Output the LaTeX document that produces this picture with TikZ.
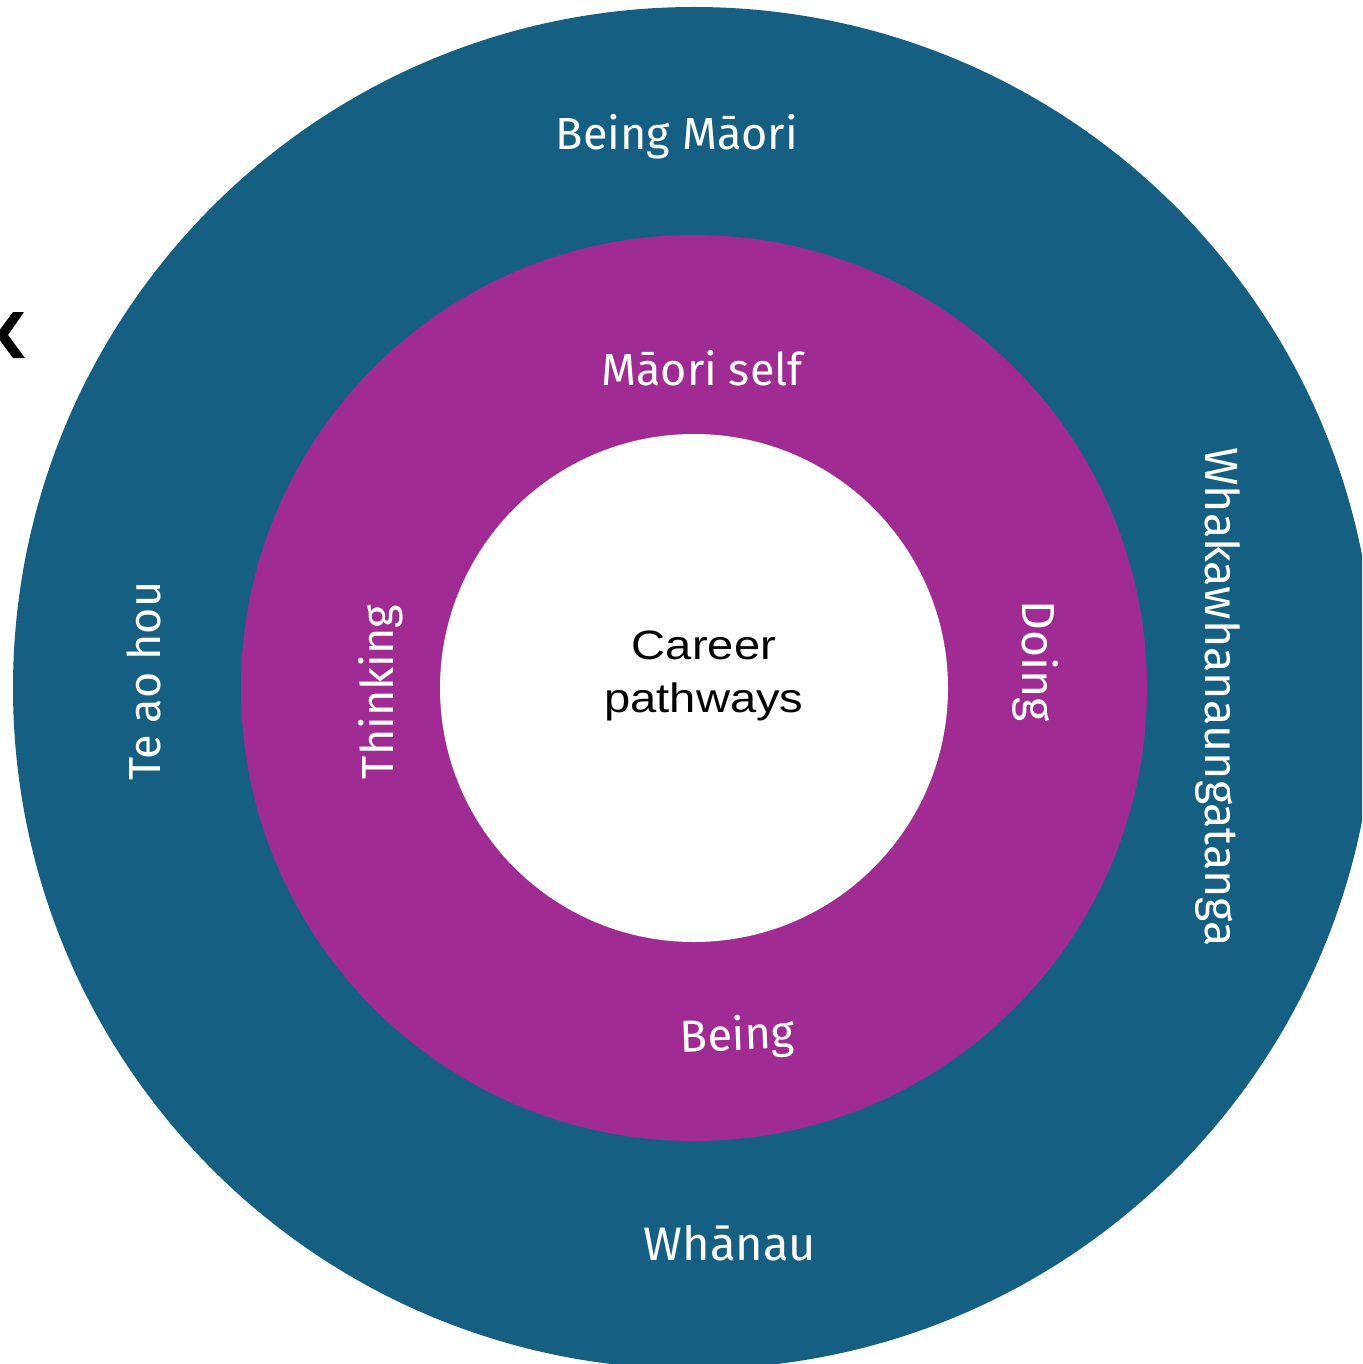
\documentclass[tikz,border=0pt]{standalone}
\usepackage{fontspec}
\setmainfont{Fira Sans}
\newfontfamily\corefont[FakeStretch=1.15]{Liberation Sans}
\definecolor{ringblue}{HTML}{156082}
\definecolor{ringpurple}{HTML}{A02B93}
\begin{document}
\begin{tikzpicture}[x=0.5pt,y=-0.5pt,
  lbl/.style={text=white,inner sep=0pt,anchor=base,font=\fontsize{22.5}{27}\selectfont},
  core/.style={text=black,inner sep=0pt,anchor=base,font=\corefont\fontsize{20.5}{24}\selectfont}]
\useasboundingbox (0,0) rectangle (1362,1364);
\clip (0,0) rectangle (1362,1364);
% concentric rings
\fill[ringblue] (694,688) circle[radius=681];
\fill[ringpurple] (694,688) circle[radius=453];
\fill[white] (694,688) circle[radius=254];
% edge of a bold letter cut by the page border
\fill[black] (13,312) -- (24,312) -- (8,335) -- (25,358) -- (13,358) -- (-4,335) -- cycle;
% outer ring labels
\node[lbl] (beingmaori) at (677,150) {Being Māori};
\node[lbl,font=\fontsize{23.5}{28}\selectfont] (whanau) at (730,1260) {Whānau};
\node[lbl,rotate=90] (teaohou) at (160,681) {Te ao hou};
\node[lbl,rotate=-90,font=\fontsize{23.3}{28}\selectfont] (whaka) at (1205,697) {Whakawhanaungatanga};
% inner ring labels
\node[lbl] (maoriself) at (702,385) {Māori self};
\node[lbl,rotate=2] (being) at (738,1050) {Being};
\node[lbl,rotate=90] (thinking) at (393,692) {Thinking};
\node[lbl,rotate=-90,font=\fontsize{23.2}{28}\selectfont] (doing) at (1022,661) {Doing};
% centre
\node[core] (career) at (704,659) {Career};
\node[core] (pathways) at (704,712) {pathways};
\end{tikzpicture}
\end{document}
